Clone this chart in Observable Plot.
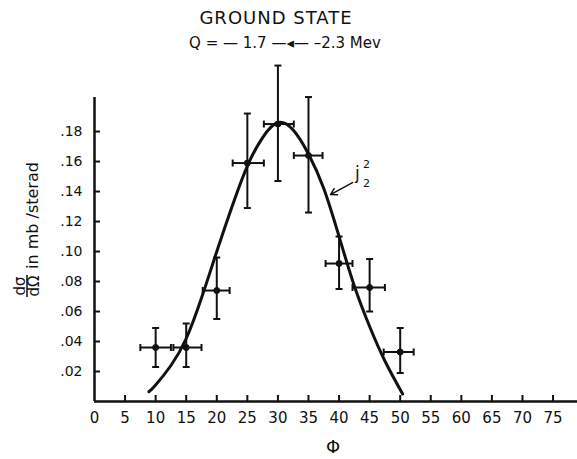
<!DOCTYPE html>
<html><head><meta charset="utf-8">
<script src="https://cdn.jsdelivr.net/npm/d3@7"></script>
<script src="https://cdn.jsdelivr.net/npm/@observablehq/plot@0.6"></script>
<style>body{margin:0;background:#fff} svg{display:block}</style>
</head><body><div id="chart"></div>
<script>
// measured points (Φ in degrees, dσ/dΩ in mb/sterad)
const phi      = [10, 15, 20, 25, 30, 35, 40, 45, 50];
const sigma    = [0.036, 0.036, 0.074, 0.159, 0.185, 0.164, 0.092, 0.076, 0.033];
const sigmaLo  = [0.023, 0.023, 0.055, 0.129, 0.147, 0.126, 0.075, 0.060, 0.019];
const sigmaHi  = [0.049, 0.052, 0.096, 0.192, 0.224, 0.203, 0.110, 0.095, 0.049];
const phiLo    = [7.5, 12.9, 17.7, 22.6, 27.7, 32.6, 37.8, 42.2, 47.3];
const phiHi    = [12.5, 17.5, 22.1, 27.7, 32.6, 37.3, 42.2, 47.5, 52.2];
// j2^2 curve
const curvePhi   = [8.9, 10, 12.5, 15, 17.5, 20, 22.5, 25, 27.5, 30, 32.5, 35, 37.5, 40, 42.5, 45, 47.5, 50.4];
const curveSigma = [0.0065, 0.011, 0.024, 0.042, 0.069, 0.100, 0.130, 0.157, 0.176, 0.186, 0.181, 0.165, 0.142, 0.110, 0.077, 0.050, 0.027, 0.005];
// ticks
const xTicks = [0, 5, 10, 15, 20, 25, 30, 35, 40, 45, 50, 55, 60, 65, 70, 75];
const yTicks = [0.02, 0.04, 0.06, 0.08, 0.10, 0.12, 0.14, 0.16, 0.18];
// annotation
const curveLabel = [{x: 42.6, y: 0.152, text: "j"}];
const curveArrow = [{x1: 42.2, y1: 0.146, x2: 38.6, y2: 0.138}];

const points = phi.map((p, i) => ({phi: p, s: sigma[i], lo: sigmaLo[i], hi: sigmaHi[i], plo: phiLo[i], phi2: phiHi[i]}));
const curve = curvePhi.map((p, i) => ({phi: p, s: curveSigma[i]}));

const W = 577, H = 459, mL = 94, mR = 0, mT = 97, mB = 58;
const fw = W - mL - mR, fh = H - mT - mB;
const font = "DejaVu Sans, sans-serif";

const hbar = {draw(ctx, size) { const r = Math.sqrt(size / Math.PI); ctx.moveTo(-r, 0); ctx.lineTo(r, 0); }};
const vbar = {draw(ctx, size) { const r = Math.sqrt(size / Math.PI); ctx.moveTo(0, -r); ctx.lineTo(0, r); }};

const chart = Plot.plot({
  width: W, height: H,
  marginLeft: mL, marginRight: mR, marginTop: mT, marginBottom: mB,
  style: {fontFamily: font, color: "#111", background: "#fff"},
  x: {domain: [0, 79], label: null},
  y: {domain: [0, 0.2027], label: null},
  marks: [
    Plot.axisX(xTicks, {tickSize: 0, tickPadding: 11, fontSize: 15, label: null}),
    Plot.axisY(yTicks, {tickSize: 0, tickPadding: 12, fontSize: 14, label: null, tickFormat: d => d3.format(".2f")(d).slice(1)}),
    Plot.tickX(xTicks.filter(d => d > 0), {x: d => d, insetTop: fh - 6, strokeWidth: 2, stroke: "#111"}),
    Plot.tickY(yTicks, {y: d => d, insetRight: fw - 6, strokeWidth: 2, stroke: "#111"}),
    Plot.ruleY([0], {strokeWidth: 2.5, stroke: "#111"}),
    Plot.ruleX([0], {strokeWidth: 2.5, stroke: "#111"}),
    Plot.line(curve, {x: "phi", y: "s", curve: "natural", strokeWidth: 3, stroke: "#111"}),
    Plot.ruleX(points, {x: "phi", y1: "lo", y2: "hi", strokeWidth: 2, stroke: "#111"}),
    Plot.ruleY(points, {y: "s", x1: "plo", x2: "phi2", strokeWidth: 2, stroke: "#111"}),
    Plot.dot(points, {x: "phi", y: "lo", symbol: hbar, r: 3.5, stroke: "#111", strokeWidth: 2}),
    Plot.dot(points, {x: "phi", y: "hi", symbol: hbar, r: 3.5, stroke: "#111", strokeWidth: 2}),
    Plot.dot(points, {x: "plo", y: "s", symbol: vbar, r: 3.5, stroke: "#111", strokeWidth: 2}),
    Plot.dot(points, {x: "phi2", y: "s", symbol: vbar, r: 3.5, stroke: "#111", strokeWidth: 2}),
    Plot.dot(points, {x: "phi", y: "s", r: 3, fill: "#111", stroke: "#111", strokeWidth: 1}),
    Plot.arrow(curveArrow, {x1: "x1", y1: "y1", x2: "x2", y2: "y2", strokeWidth: 1.5, headLength: 7, stroke: "#111"}),
    Plot.text(curveLabel, {x: "x", y: "y", text: "text", fontSize: 17, textAnchor: "start", fill: "#111"}),
    Plot.text(curveLabel, {x: "x", y: "y", text: () => "2", dx: 8, dy: -9, fontSize: 11, textAnchor: "start", fill: "#111"}),
    Plot.text(curveLabel, {x: "x", y: "y", text: () => "2", dx: 8, dy: 10, fontSize: 11, textAnchor: "start", fill: "#111"})
  ]
});

const svg = d3.select(chart);
svg.append("text").attr("x", 276).attr("y", 24).attr("text-anchor", "middle")
  .attr("font-size", 18).attr("letter-spacing", 1).attr("font-family", font).attr("fill", "#111").text("GROUND STATE");
svg.append("text").attr("x", 285).attr("y", 48).attr("text-anchor", "middle")
  .attr("font-size", 15).attr("font-family", font).attr("fill", "#111").text("Q = — 1.7 —◂— –2.3 Mev");
svg.append("text").attr("x", 333).attr("y", 453).attr("text-anchor", "middle")
  .attr("font-size", 18).attr("font-family", font).attr("fill", "#111").text("Φ");

const g = svg.append("g").attr("transform", "translate(38,300) rotate(-90)")
  .attr("font-family", font).attr("fill", "#111");
g.append("text").attr("x", 14).attr("y", -13).attr("text-anchor", "middle").attr("font-size", 15).text("dσ");
g.append("line").attr("x1", 3).attr("x2", 25).attr("y1", -11).attr("y2", -11).attr("stroke", "#111").attr("stroke-width", 1.5);
g.append("text").attr("x", 14).attr("y", 1).attr("text-anchor", "middle").attr("font-size", 15).text("dΩ");
g.append("text").attr("x", 31).attr("y", 0).attr("text-anchor", "start").attr("font-size", 16).text("in mb /sterad");

document.getElementById("chart").appendChild(chart);
</script>
</body></html>
